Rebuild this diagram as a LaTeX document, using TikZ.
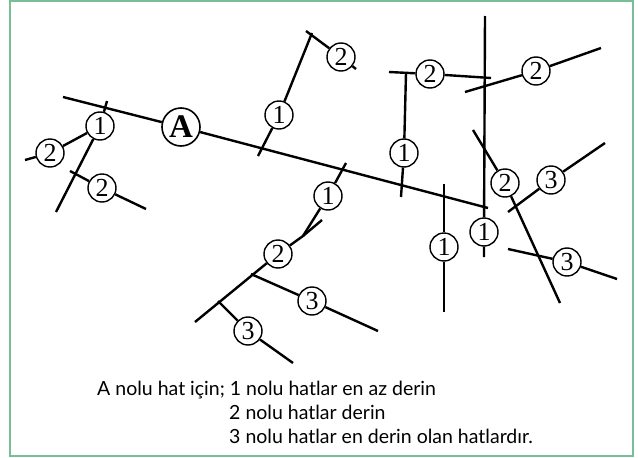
\documentclass[tikz,border=0pt]{standalone}
\usepackage{fontspec}
\newfontfamily\capfont{Lato}
\newfontfamily\numfont{Liberation Serif}
\usetikzlibrary{positioning}
\definecolor{framegreen}{RGB}{120,190,150}

\begin{document}
\begin{tikzpicture}[
    x=1pt, y=-1pt,
    hat/.style={line width=2.4pt},
    num/.style={circle, draw, line width=1.4pt, fill=white, minimum size=28pt, inner sep=0pt, font=\numfont\fontsize{26}{26}\selectfont},
    main/.style={circle, draw, line width=1.6pt, fill=white, minimum size=38pt, inner sep=0pt, font=\numfont\bfseries\fontsize{33}{33}\selectfont},
    caption/.style={anchor=base west, inner sep=0pt, font=\capfont\fontsize{19.5}{19.5}\selectfont}
]

\useasboundingbox (0,0) rectangle (638,458);
\draw[framegreen, line width=1.5pt] (10,1) rectangle (633,456);

% Main line A
\node[main] (A) at (181,127) {A};

% First order lines
\node[num] (b1) at (100,126) {1};
\node[num] (b2) at (279,115) {1};
\node[num] (b3) at (328,196) {1};
\node[num] (b4) at (404,153) {1};
\node[num] (b5) at (444,247) {1};
\node[num] (b6) at (484,232) {1};

% Second order lines
\node[num] (c1) at (50,153) {2};
\node[num] (c2) at (102,188) {2};
\node[num] (c3) at (341,57) {2};
\node[num] (c4) at (430,74) {2};
\node[num] (c5) at (536,71) {2};
\node[num] (c6) at (505,183) {2};
\node[num] (c7) at (278,254) {2};

% Third order lines
\node[num] (d1) at (312,301) {3};
\node[num] (d2) at (248,331) {3};
\node[num] (d3) at (551,180) {3};
\node[num] (d4) at (567,262) {3};

% End points
\coordinate (m1) at (63,97);
\coordinate (m2) at (488,208);
\coordinate (b1t) at (107,101);
\coordinate (b1e) at (56,212);
\coordinate (c1e) at (25,160);
\coordinate (c2s) at (70,171);
\coordinate (c2e) at (146,209);
\coordinate (b2s) at (258,156);
\coordinate (b2t) at (312,33);
\coordinate (b2k) at (306,31);
\coordinate (c3e) at (356,69);
\coordinate (b3t) at (346,163);
\coordinate (j) at (303,236);
\coordinate (c7e) at (195,322);
\coordinate (k1) at (322,220);
\coordinate (d1s) at (251,274);
\coordinate (d1e) at (378,331);
\coordinate (d2s) at (218,301);
\coordinate (d2e) at (293,363);
\coordinate (v1) at (485,16);
\coordinate (v2) at (484,257);
\coordinate (h1) at (389,72);
\coordinate (h2) at (491,78);
\coordinate (b4t) at (406,73);
\coordinate (b4e) at (401,197);
\coordinate (c5s) at (465,92);
\coordinate (c5e) at (601,48);
\coordinate (c6s) at (473,130);
\coordinate (c6e) at (560,303);
\coordinate (d3s) at (508,212);
\coordinate (d3e) at (605,143);
\coordinate (d4s) at (508,249);
\coordinate (d4e) at (617,279);
\coordinate (b5t) at (444,184);
\coordinate (b5e) at (444,312);

% Lines
\draw[hat] (m1) -- (A) -- (m2);
\draw[hat] (b1t) -- (b1) -- (b1e);
\draw[hat] (b1) -- (c1) -- (c1e);
\draw[hat] (c2s) -- (c2) -- (c2e);
\draw[hat] (b2s) -- (b2) -- (b2t);
\draw[hat] (b2k) -- (c3) -- (c3e);
\draw[hat] (b3t) -- (b3) -- (j) -- (c7) -- (c7e);
\draw[hat] (k1) -- (j);
\draw[hat] (d1s) -- (d1) -- (d1e);
\draw[hat] (d2s) -- (d2) -- (d2e);
\draw[hat] (v1) -- (b6) -- (v2);
\draw[hat] (h1) -- (c4) -- (h2);
\draw[hat] (b4t) -- (b4) -- (b4e);
\draw[hat] (c5s) -- (c5) -- (c5e);
\draw[hat] (c6s) -- (c6) -- (c6e);
\draw[hat] (d3s) -- (d3) -- (d3e);
\draw[hat] (d4s) -- (d4) -- (d4e);
\draw[hat] (b5t) -- (b5) -- (b5e);

% Caption
\node[caption] (cap1) at (97,395) {A nolu hat için; 1 nolu hatlar en az derin};
\node[caption] (cap2) at (229,419) {2 nolu hatlar derin};
\node[caption] (cap3) at (229,443) {3 nolu hatlar en derin olan hatlardır.};

\end{tikzpicture}
\end{document}
